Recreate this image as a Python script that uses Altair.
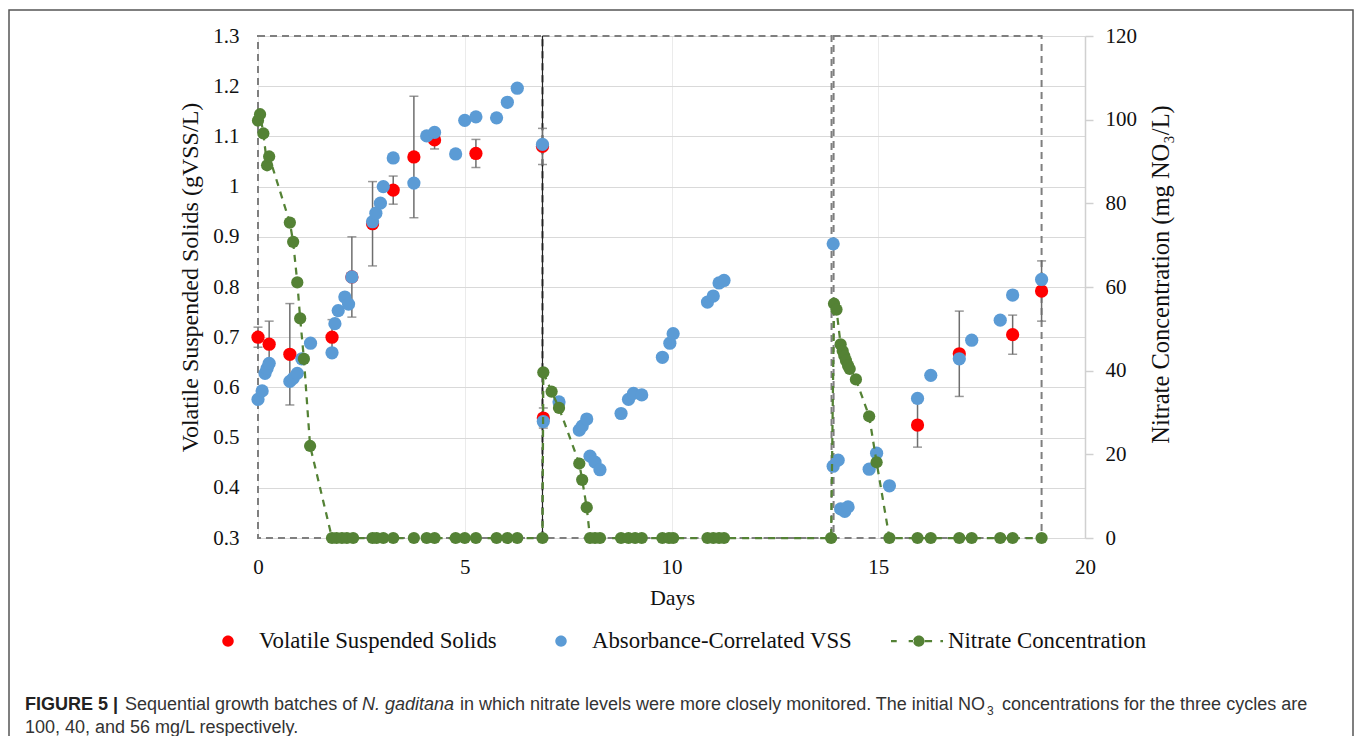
import altair as alt
import pandas as pd

# ---------------- data ----------------
vss_days = [0.0, 0.27, 0.77, 1.79, 2.27, 2.77, 3.27, 3.77, 4.27, 5.27, 6.88, 6.9, 15.95, 16.96, 18.25, 18.95]
vss_vals = [0.700, 0.686, 0.666, 0.700, 0.820, 0.926, 0.993, 1.059, 1.093, 1.066, 1.080, 0.539, 0.525, 0.667, 0.705, 0.792]
vss_err = [0.020, 0.046, 0.101, 0.035, 0.080, 0.084, 0.028, 0.121, 0.018, 0.028, 0.036, 0.020, 0.044, 0.085, 0.039, 0.060]

acvss_days = [0.0, 0.1, 0.17, 0.22, 0.27, 0.77, 0.85, 0.95, 1.06, 1.27, 1.79, 1.86, 1.94, 2.1, 2.19, 2.27,
              2.77, 2.85, 2.96, 3.03, 3.27, 3.77, 4.08, 4.27, 4.78, 5.0, 5.27, 5.77, 6.03, 6.27, 6.88,
              6.9, 7.28, 7.77, 7.84, 7.95, 8.03, 8.15, 8.27, 8.78, 8.96, 9.08, 9.28, 9.78, 9.96, 10.04,
              10.87, 11.01, 11.15, 11.27,
              13.91, 13.91, 14.03, 14.09, 14.19, 14.27, 14.78, 14.96, 15.27, 15.95, 16.27, 16.96, 17.26,
              17.95, 18.25, 18.95]
acvss_vals = [0.576, 0.593, 0.628, 0.638, 0.648, 0.612, 0.618, 0.628, 0.657, 0.688, 0.669, 0.727, 0.753, 0.780, 0.766, 0.820,
              0.930, 0.947, 0.967, 1.000, 1.057, 1.007, 1.101, 1.108, 1.065, 1.132, 1.139, 1.137, 1.168, 1.196, 1.084,
              0.532, 0.571, 0.515, 0.523, 0.537, 0.463, 0.451, 0.436, 0.548, 0.576, 0.588, 0.585, 0.660, 0.688, 0.707,
              0.770, 0.782, 0.808, 0.813,
              0.886, 0.443, 0.455, 0.358, 0.353, 0.362, 0.437, 0.469, 0.404, 0.578, 0.624, 0.657, 0.694,
              0.734, 0.784, 0.815]

nitrate_days = [0.0, 0.05, 0.13, 0.22, 0.27, 0.77, 0.85, 0.95, 1.02, 1.11, 1.26,
                1.79, 1.9, 2.03, 2.15, 2.3, 2.77, 2.87, 3.03, 3.27, 3.77, 4.08, 4.27, 4.78, 5.0, 5.27,
                5.77, 6.03, 6.27, 6.88,
                6.9, 7.1, 7.28, 7.77, 7.84, 7.95,
                8.03, 8.15, 8.27, 8.78, 8.96, 9.12, 9.28, 9.78, 9.94, 10.04, 10.87, 11.01, 11.15, 11.27, 13.86,
                13.93, 13.99, 14.09, 14.14, 14.18, 14.22, 14.27, 14.31, 14.46, 14.78, 14.96,
                15.27, 15.95, 16.27, 16.96, 17.26, 17.95, 18.25, 18.95]
nitrate_vals = [99.8, 101.3, 96.7, 89.1, 91.2, 75.4, 70.8, 61.1, 52.5, 42.8, 22.0,
                0, 0, 0, 0, 0, 0, 0, 0, 0, 0, 0, 0, 0, 0, 0,
                0, 0, 0, 0,
                39.6, 35.0, 31.1, 17.8, 13.9, 7.3,
                0, 0, 0, 0, 0, 0, 0, 0, 0, 0, 0, 0, 0, 0, 0,
                56.0, 54.6, 46.3, 44.7, 43.5, 42.4, 41.2, 40.4, 37.9, 29.1, 18.1,
                0, 0, 0, 0, 0, 0, 0, 0]

batch_start = [0.0, 6.88, 13.92]
batch_end = [6.88, 13.87, 18.95]
separator_days = [6.88]

x_ticks = [0, 5, 10, 15, 20]
yl_ticks = [0.3, 0.4, 0.5, 0.6, 0.7, 0.8, 0.9, 1.0, 1.1, 1.2, 1.3]
yr_ticks = [0, 20, 40, 60, 80, 100, 120]

series_names = ["Volatile Suspended Solids", "Absorbance-Correlated VSS", "Nitrate Concentration"]
series_colors = ["#ff0000", "#5b9bd5", "#548235"]

# ---------------- tables ----------------
vss_df = pd.DataFrame({"day": vss_days, "v": vss_vals, "err": vss_err})
vss_df["lo"] = vss_df["v"] - vss_df["err"]
vss_df["hi"] = vss_df["v"] + vss_df["err"]
ac_df = pd.DataFrame({"day": acvss_days, "v": acvss_vals})
no3_df = pd.DataFrame({"day": nitrate_days, "n": nitrate_vals})
no3_df["idx"] = range(len(no3_df))
batch_df = pd.DataFrame({"s": batch_start, "e": batch_end,
                         "b": [yl_ticks[0]] * 3, "t": [yl_ticks[-1]] * 3})
sep_df = pd.DataFrame({"day": separator_days, "b": [yl_ticks[0]], "t": [yl_ticks[-1]]})
leg_df = pd.DataFrame({"series": series_names})
one = pd.DataFrame({"a": [0]})

SERIF = "Liberation Serif"
SANS = "Liberation Sans"
W, H = 827, 502
GRAY = "#6e6e6e"

x_scale = alt.Scale(domain=[0, 20], nice=False, zero=False)
yl_scale = alt.Scale(domain=[0.3, 1.3], nice=False, zero=False)
yr_scale = alt.Scale(domain=[0, 120], nice=False)

x_axis = alt.Axis(values=x_ticks, grid=True, gridColor="#ebebeb", gridWidth=1, domain=False, ticks=False,
                  labelFlush=False,
                  labelFont=SERIF, labelFontSize=21, labelColor="#111", labelPadding=18,
                  title="Days", titleFont=SERIF, titleFontSize=22, titleFontWeight="normal",
                  titleColor="#111", titleX=414, titleY=66, titleAlign="center", titleBaseline="alphabetic")
yl_axis = alt.Axis(values=yl_ticks, format="~g", grid=True, gridColor="#d9d9d9", gridWidth=1.2,
                   domain=False, ticks=False, labelFont=SERIF, labelFontSize=21, labelColor="#111",
                   labelPadding=19, title="Volatile Suspended Solids (gVSS/L)", titleFont=SERIF,
                   titleFontSize=24, titleFontWeight="normal", titleColor="#111", titleAngle=270,
                   titleX=-68, titleY=241, titleAlign="center", titleBaseline="middle")
yr_axis = alt.Axis(orient="right", values=yr_ticks, grid=False, domain=True, domainColor="#d0d0d0",
                   domainWidth=1.5, ticks=True, tickColor="#d0d0d0", tickSize=8, tickWidth=1.5,
                   labelFont=SERIF, labelFontSize=21, labelColor="#111", labelPadding=12,
                   title="Nitrate Concentration (mg NO\u2083/L)", titleFont=SERIF, titleFontSize=24.5,
                   titleFontWeight="normal", titleColor="#111", titleAngle=270, titleX=76, titleY=238,
                   titleAlign="center", titleBaseline="middle")

X = alt.X("day:Q", scale=x_scale, axis=x_axis)

rects = alt.Chart(batch_df).mark_rect(fillOpacity=0, stroke="#7f7f7f", strokeWidth=2,
                                      strokeDash=[7, 5]).encode(
    x=alt.X("s:Q", scale=x_scale, axis=x_axis), x2="e:Q",
    y=alt.Y("b:Q", scale=yl_scale, axis=yl_axis), y2="t:Q")
sep = alt.Chart(sep_df).mark_rule(color="#222222", strokeWidth=1.2).encode(
    x=X, y=alt.Y("b:Q", scale=yl_scale, axis=yl_axis), y2="t:Q")

rules = alt.Chart(vss_df).mark_rule(color=GRAY, strokeWidth=1.5).encode(
    x=X, y=alt.Y("lo:Q", scale=yl_scale, axis=yl_axis), y2="hi:Q")
cap_lo = alt.Chart(vss_df).mark_tick(orient="horizontal", size=9, thickness=1.5, color=GRAY).encode(
    x=X, y=alt.Y("lo:Q", scale=yl_scale, axis=yl_axis))
cap_hi = alt.Chart(vss_df).mark_tick(orient="horizontal", size=9, thickness=1.5, color=GRAY).encode(
    x=X, y=alt.Y("hi:Q", scale=yl_scale, axis=yl_axis))
red = alt.Chart(vss_df).mark_circle(size=175, color=series_colors[0], opacity=1).encode(
    x=X, y=alt.Y("v:Q", scale=yl_scale, axis=yl_axis))
blue = alt.Chart(ac_df).mark_circle(size=175, color=series_colors[1], opacity=1).encode(
    x=X, y=alt.Y("v:Q", scale=yl_scale, axis=yl_axis))

left = alt.layer(rects, sep, rules, cap_lo, cap_hi, red, blue)

YR = alt.Y("n:Q", scale=yr_scale, axis=yr_axis)
nline = alt.Chart(no3_df).mark_line(color=series_colors[2], strokeWidth=2.25, strokeDash=[7, 6]).encode(
    x=X, y=YR, order="idx:Q")
npts = alt.Chart(no3_df).mark_circle(size=150, color=series_colors[2], opacity=1).encode(x=X, y=YR)
right = alt.layer(nline, npts)

# legend (a merged color/shape legend on an invisible layer; all symbols share one 52px box)
dot_symbol = "M-0.22,0A0.22,0.22,0,1,0,0.22,0A0.22,0.22,0,1,0,-0.22,0Z"
nitrate_symbol = ("M-1,-0.045H-0.78V0.045H-1Z "
                  "M-0.32,-0.045H-0.12V0.045H-0.32Z "
                  "M-0.15,0A0.22,0.22,0,1,0,0.29,0A0.22,0.22,0,1,0,-0.15,0Z "
                  "M0.3,-0.045H0.58V0.045H0.3Z "
                  "M0.9,-0.045H1V0.045H0.9Z")
leg = alt.Legend(title=None, orient="none", legendX=-56, legendY=579, direction="horizontal",
                 labelFont=SERIF, labelFontSize=22.8, labelColor="#111", labelOffset=5,
                 columnPadding=38, symbolOpacity=1, symbolStrokeWidth=0, symbolSize=2704,
                 labelLimit=400)
legend_layer = alt.Chart(leg_df).mark_point(filled=True, opacity=0).encode(
    x=alt.value(0), y=alt.value(0),
    color=alt.Color("series:N", scale=alt.Scale(domain=series_names, range=series_colors), legend=leg),
    shape=alt.Shape("series:N", scale=alt.Scale(domain=series_names,
                                                range=[dot_symbol, dot_symbol, nitrate_symbol]), legend=leg),
)

# figure frame and caption
border = alt.Chart(one).mark_rect(fillOpacity=0, stroke="#555555", strokeWidth=1.5).encode(
    x=alt.value(-249), x2=alt.value(1095), y=alt.value(-26), y2=alt.value(760))


def cap(text, x, y, size=18, weight="normal", style="normal", color="#333333"):
    return alt.Chart(one).mark_text(text=text, align="left", baseline="alphabetic", font=SANS,
                                    fontSize=size, fontWeight=weight, fontStyle=style,
                                    color=color).encode(x=alt.value(x), y=alt.value(y))


captions = [
    cap("FIGURE 5 |", -233, 674, weight="bold", color="#222222"),
    cap("Sequential growth batches of", -133, 674),
    cap("N. gaditana", 104, 674, style="italic"),
    cap("in which nitrate levels were more closely monitored. The initial NO", 202, 674),
    cap("3", 729, 679, size=12),
    cap("concentrations for the three cycles are", 744, 674),
    cap("100, 40, and 56 mg/L respectively.", -233, 697),
]

chart = alt.layer(left, right, legend_layer, border, *captions).resolve_scale(
    y="independent"
).properties(
    width=W, height=H,
    autosize=alt.AutoSizeParams(type="none"),
    padding={"left": 250, "top": 28, "right": 269, "bottom": 198},
).configure_view(stroke=None)

chart.save("out.html", embed_options={"renderer": "svg", "actions": False})
